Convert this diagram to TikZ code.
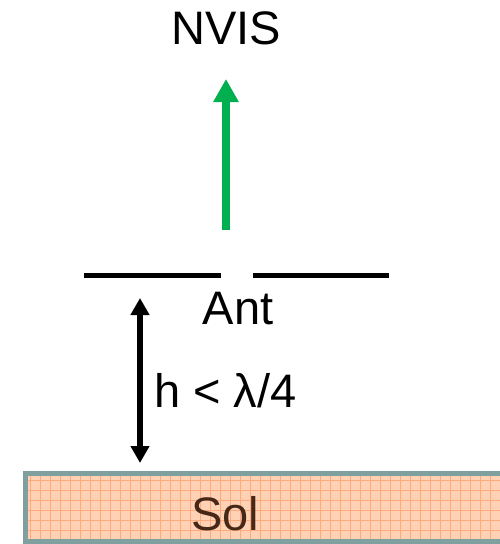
\documentclass[tikz,border=0pt]{standalone}
\usepackage{fontspec}
\setmainfont{Liberation Sans}
\usetikzlibrary{arrows.meta}
\definecolor{nvisgreen}{RGB}{0,176,80}
\definecolor{soilfill}{RGB}{255,210,182}
\definecolor{soilgrid}{RGB}{255,170,125}
\definecolor{soilborder}{RGB}{128,160,160}
\definecolor{soiltext}{RGB}{70,40,25}
\begin{document}
\begin{tikzpicture}[x=1pt,y=-1pt,
  lbl/.style={inner sep=0pt, anchor=base, font=\fontsize{47}{50}\selectfont},
  antline/.style={line width=5pt, black},
  uparrow/.style={line width=8pt, nvisgreen, -{Triangle[width=24pt,length=23pt]}},
  hgtarrow/.style={line width=5.5pt, black, {Triangle[width=18pt,length=17pt]}-{Triangle[width=18pt,length=17pt]}},
  gridline/.style={soilgrid, line width=0.7pt}]
\useasboundingbox (0,0) rectangle (500,544);
% ground
\fill[soilfill] (25,473) rectangle (505,541);
\foreach \gx in {30,40,...,500} {\draw[gridline] (\gx,473) -- (\gx,541);}
\foreach \gy in {480,490,...,540} {\draw[gridline] (25,\gy) -- (505,\gy);}
\draw[soilborder, line width=5pt] (25,473) rectangle (505,541);
\node[lbl, text=soiltext] (sol) at (225,530) {Sol};
% antenna
\coordinate (a1) at (84,275);
\coordinate (a2) at (221,275);
\coordinate (a3) at (253,275);
\coordinate (a4) at (389,275);
\draw[antline] (a1) -- (a2);
\draw[antline] (a3) -- (a4);
\node[lbl] (ant) at (238,324) {Ant};
% NVIS arrow
\node[lbl] (nvis) at (226,44) {NVIS};
\coordinate (gbot) at (226,230);
\coordinate (gtop) at (226,79);
\draw[uparrow] (gbot) -- (gtop);
% height arrow
\coordinate (htop) at (140,298);
\coordinate (hbot) at (140,463);
\draw[hgtarrow] (hbot) -- (htop);
\node[lbl, anchor=base west] (h) at (154,407) {h < λ/4};
\end{tikzpicture}
\end{document}
